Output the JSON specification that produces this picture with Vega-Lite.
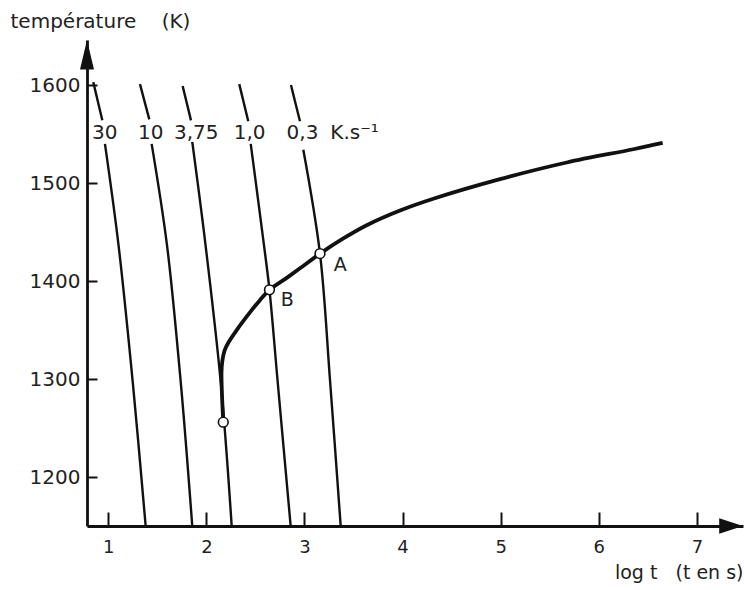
{
  "$schema": "https://vega.github.io/schema/vega-lite/v6.json",
  "width": 656,
  "height": 486,
  "autosize": {"type": "none"},
  "padding": {"left": 87, "top": 40, "right": 1, "bottom": 64},
  "background": "white",
  "config": {"view": {"stroke": null}, "font": "DejaVu Sans"},
  "datasets": {
    "refroidissement": [
      {"trace": "30 haut", "i": 1, "logt": 0.847, "T": 1603},
      {"trace": "30 haut", "i": 2, "logt": 0.939, "T": 1564},
      {"trace": "30 bas", "i": 1, "logt": 0.966, "T": 1540},
      {"trace": "30 bas", "i": 2, "logt": 1.104, "T": 1437},
      {"trace": "30 bas", "i": 3, "logt": 1.252, "T": 1294},
      {"trace": "30 bas", "i": 4, "logt": 1.381, "T": 1150},
      {"trace": "10 haut", "i": 1, "logt": 1.323, "T": 1601},
      {"trace": "10 haut", "i": 2, "logt": 1.418, "T": 1565},
      {"trace": "10 bas", "i": 1, "logt": 1.442, "T": 1540},
      {"trace": "10 bas", "i": 2, "logt": 1.598, "T": 1437},
      {"trace": "10 bas", "i": 3, "logt": 1.741, "T": 1294},
      {"trace": "10 bas", "i": 4, "logt": 1.856, "T": 1150},
      {"trace": "3,75 haut", "i": 1, "logt": 1.758, "T": 1599},
      {"trace": "3,75 haut", "i": 2, "logt": 1.843, "T": 1564},
      {"trace": "3,75 bas", "i": 1, "logt": 1.856, "T": 1542},
      {"trace": "3,75 bas", "i": 2, "logt": 1.991, "T": 1437},
      {"trace": "3,75 bas", "i": 3, "logt": 2.149, "T": 1294},
      {"trace": "3,75 bas", "i": 4, "logt": 2.258, "T": 1150},
      {"trace": "1,0 haut", "i": 1, "logt": 2.335, "T": 1601},
      {"trace": "1,0 haut", "i": 2, "logt": 2.427, "T": 1563},
      {"trace": "1,0 bas", "i": 1, "logt": 2.452, "T": 1540},
      {"trace": "1,0 bas", "i": 2, "logt": 2.580, "T": 1442},
      {"trace": "1,0 bas", "i": 3, "logt": 2.643, "T": 1391},
      {"trace": "1,0 bas", "i": 4, "logt": 2.725, "T": 1299},
      {"trace": "1,0 bas", "i": 5, "logt": 2.859, "T": 1150},
      {"trace": "0,3 haut", "i": 1, "logt": 2.862, "T": 1600},
      {"trace": "0,3 haut", "i": 2, "logt": 2.954, "T": 1563},
      {"trace": "0,3 bas", "i": 1, "logt": 2.988, "T": 1534},
      {"trace": "0,3 bas", "i": 2, "logt": 3.158, "T": 1428},
      {"trace": "0,3 bas", "i": 3, "logt": 3.260, "T": 1299},
      {"trace": "0,3 bas", "i": 4, "logt": 3.369, "T": 1150}
    ],
    "courbe_ttt": [
      {"i": 1, "logt": 2.172, "T": 1256},
      {"i": 2, "logt": 2.159, "T": 1284},
      {"i": 3, "logt": 2.154, "T": 1307},
      {"i": 4, "logt": 2.162, "T": 1318},
      {"i": 5, "logt": 2.185, "T": 1329},
      {"i": 6, "logt": 2.223, "T": 1337},
      {"i": 7, "logt": 2.309, "T": 1350},
      {"i": 8, "logt": 2.444, "T": 1368},
      {"i": 9, "logt": 2.546, "T": 1380.5},
      {"i": 10, "logt": 2.643, "T": 1391},
      {"i": 11, "logt": 2.801, "T": 1402},
      {"i": 12, "logt": 2.954, "T": 1413},
      {"i": 13, "logt": 3.158, "T": 1428},
      {"i": 14, "logt": 3.396, "T": 1443.5},
      {"i": 15, "logt": 3.634, "T": 1457},
      {"i": 16, "logt": 3.974, "T": 1472},
      {"i": 17, "logt": 4.313, "T": 1484},
      {"i": 18, "logt": 4.993, "T": 1504},
      {"i": 19, "logt": 5.673, "T": 1521},
      {"i": 20, "logt": 6.352, "T": 1534.5},
      {"i": 21, "logt": 6.651, "T": 1541}
    ],
    "intersections": [
      {"nom": "A", "logt": 3.158, "T": 1428},
      {"nom": "B", "logt": 2.643, "T": 1391},
      {"nom": "debut", "logt": 2.172, "T": 1256}
    ],
    "vitesses": [
      {"texte": "30", "logt": 0.963, "T": 1551.5},
      {"texte": "10", "logt": 1.433, "T": 1551.5},
      {"texte": "3,75", "logt": 1.897, "T": 1551.5},
      {"texte": "1,0", "logt": 2.441, "T": 1551.5},
      {"texte": "0,3", "logt": 2.98, "T": 1551.5},
      {"texte": "K.s⁻¹", "logt": 3.51, "T": 1551.5}
    ],
    "points_nommes": [
      {"texte": "A", "logt": 3.365, "T": 1416},
      {"texte": "B", "logt": 2.825, "T": 1380.5}
    ],
    "fleche_y": [{"logt": 0.783, "T": 1646}],
    "fleche_x": [{"logt": 7.47, "T": 1150}]
  },
  "encoding": {
    "x": {
      "field": "logt",
      "type": "quantitative",
      "scale": {"domain": [0.783, 7.47], "nice": false, "zero": false},
      "axis": {
        "values": [1, 2, 3, 4, 5, 6, 7],
        "format": "d",
        "grid": false,
        "labelFlush": false,
        "domainColor": "#111",
        "domainWidth": 2.8,
        "tickColor": "#111",
        "tickWidth": 2,
        "tickSize": -14,
        "labelPadding": 26,
        "labelFont": "DejaVu Sans",
        "labelFontSize": 18,
        "labelColor": "#222",
        "title": "log t\u00a0\u00a0\u00a0(t en s)",
        "titleFont": "DejaVu Sans",
        "titleFontSize": 19,
        "titleFontWeight": "normal",
        "titleColor": "#222",
        "titleAnchor": "end",
        "titleAlign": "right",
        "titleX": 656,
        "titleY": 52,
        "titleBaseline": "alphabetic"
      }
    },
    "y": {
      "field": "T",
      "type": "quantitative",
      "scale": {"domain": [1150, 1646], "nice": false, "zero": false},
      "axis": {
        "values": [1200, 1300, 1400, 1500, 1600],
        "format": "d",
        "grid": false,
        "labelFlush": false,
        "domainColor": "#111",
        "domainWidth": 2.8,
        "tickColor": "#111",
        "tickWidth": 2,
        "tickSize": -10,
        "labelPadding": 17,
        "labelFont": "DejaVu Sans",
        "labelFontSize": 20,
        "labelColor": "#222",
        "title": "température\u00a0\u00a0\u00a0\u00a0(K)",
        "titleFont": "DejaVu Sans",
        "titleFontSize": 20,
        "titleFontWeight": "normal",
        "titleColor": "#222",
        "titleAngle": 0,
        "titleAlign": "left",
        "titleAnchor": "start",
        "titleX": -77,
        "titleY": -13,
        "titleBaseline": "alphabetic"
      }
    }
  },
  "layer": [
    {
      "data": {"name": "refroidissement"},
      "mark": {"type": "line", "interpolate": "catmull-rom", "color": "#111", "strokeWidth": 2.4},
      "encoding": {
        "detail": {"field": "trace", "type": "nominal"},
        "order": {"field": "i", "type": "quantitative"}
      }
    },
    {
      "data": {"name": "courbe_ttt"},
      "mark": {"type": "line", "interpolate": "catmull-rom", "color": "#111", "strokeWidth": 3.8},
      "encoding": {
        "order": {"field": "i", "type": "quantitative"}
      }
    },
    {
      "data": {"name": "intersections"},
      "mark": {"type": "point", "shape": "circle", "filled": true, "fill": "white", "stroke": "#111", "strokeWidth": 1.6, "size": 95, "opacity": 1}
    },
    {
      "data": {"name": "vitesses"},
      "mark": {"type": "text", "font": "DejaVu Sans", "fontSize": 20, "color": "#222", "align": "center", "baseline": "middle"},
      "encoding": {"text": {"field": "texte", "type": "nominal"}}
    },
    {
      "data": {"name": "points_nommes"},
      "mark": {"type": "text", "font": "DejaVu Sans", "fontSize": 19, "color": "#222", "align": "center", "baseline": "middle"},
      "encoding": {"text": {"field": "texte", "type": "nominal"}}
    },
    {
      "data": {"name": "fleche_y"},
      "mark": {"type": "point", "shape": "M0,0L0.5,2.1L-0.5,2.1Z", "size": 784, "filled": true, "fill": "#111", "strokeWidth": 0, "opacity": 1}
    },
    {
      "data": {"name": "fleche_x"},
      "mark": {"type": "point", "shape": "M0,0L-1.7,-0.55L-1.7,0.55Z", "size": 784, "filled": true, "fill": "#111", "strokeWidth": 0, "opacity": 1}
    }
  ]
}
